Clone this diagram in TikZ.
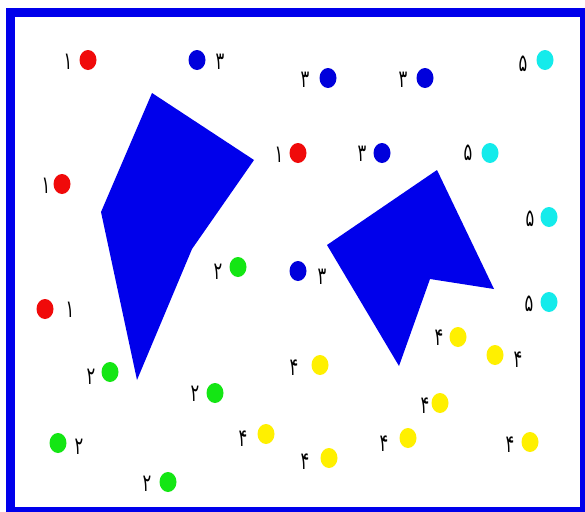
\documentclass[tikz,border=0pt]{standalone}
\usepackage{fontspec}
\usepackage{graphicx}
\usetikzlibrary{shapes.geometric}
\newfontfamily\farsi[Script=Arabic]{DejaVu Sans}
\TeXXeTstate=1
\definecolor{frameblue}{RGB}{0,0,235}
\definecolor{spotred}{RGB}{240,10,10}
\definecolor{spotblue}{RGB}{0,0,220}
\definecolor{spotcyan}{RGB}{20,235,235}
\definecolor{spotgreen}{RGB}{20,230,20}
\definecolor{spotyellow}{RGB}{255,240,0}

\begin{document}
\begin{tikzpicture}[x=1pt, y=-1pt,
  spot/.style={ellipse, fill=#1, inner sep=0pt, minimum width=17pt, minimum height=20pt},
  num/.style={font=\farsi\fontsize{18}{18}\selectfont, inner sep=0pt},
  piece/.style={fill=frameblue, draw=none}]
  \clip (0,0) rectangle (585,511);
  \fill[white] (0,0) rectangle (585,511);
  % frame, cut at the right and bottom
  \draw[frameblue, line width=9pt] (10.5,12.5) rectangle (584.5,511.5);

  % the two blue pieces
  \fill[piece] (152,93) -- (254,160) -- (192,249) -- (137,380) -- (101,212) -- cycle;
  \fill[piece] (437,170) -- (494,289) -- (430,279) -- (399,366) -- (327,245) -- cycle;

  % spots: x/y/colour/digit/label x/label y
  \foreach \x/\y/\c/\d/\lx/\ly [count=\i] in {
      88/60/spotred/۱/68/62, 62/184/spotred/۱/46/186,
      298/153/spotred/۱/279/155, 45/309/spotred/۱/70/310,
      197/60/spotblue/۳/220/62, 328/78/spotblue/۳/305/80,
      425/78/spotblue/۳/403/80, 382/153/spotblue/۳/362/154,
      298/271/spotblue/۳/322/277,
      545/60/spotcyan/۵/523/64, 490/153/spotcyan/۵/468/153,
      549/217/spotcyan/۵/530/219, 549/302/spotcyan/۵/529/304,
      238/267/spotgreen/۲/218/272, 110/372/spotgreen/۲/91/377,
      215/393/spotgreen/۲/195/394, 58/443/spotgreen/۲/79/447,
      168/482/spotgreen/۲/147/484,
      320/365/spotyellow/۴/294/368, 458/337/spotyellow/۴/439/338,
      495/355/spotyellow/۴/518/360, 440/403/spotyellow/۴/425/406,
      266/434/spotyellow/۴/243/439, 408/438/spotyellow/۴/384/444,
      329/458/spotyellow/۴/305/462, 530/442/spotyellow/۴/510/445}
  {
    \node[spot=\c] (s\i) at (\x,\y) {};
    \node[num] (n\i) at (\lx,\ly) {\scalebox{0.9}[1.35]{\beginR\d\endR}};
  }
\end{tikzpicture}
\end{document}
